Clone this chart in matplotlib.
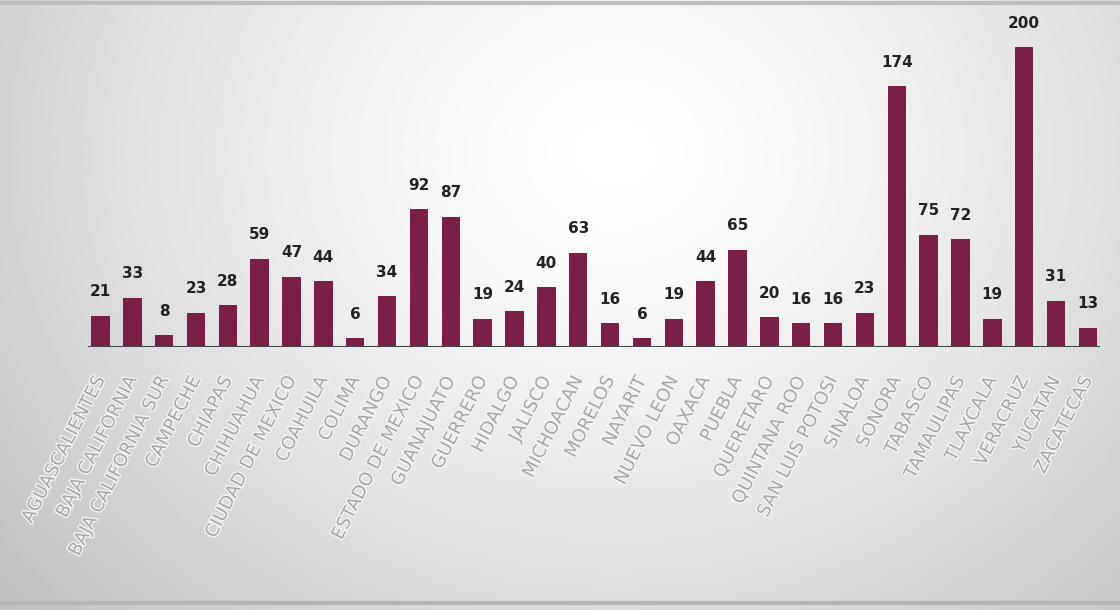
import numpy as np
import matplotlib
matplotlib.use("Agg")
import matplotlib.pyplot as plt
import matplotlib.patheffects as pe

estados = ["AGUASCALIENTES", "BAJA CALIFORNIA", "BAJA CALIFORNIA SUR", "CAMPECHE",
           "CHIAPAS", "CHIHUAHUA", "CIUDAD DE MEXICO", "COAHUILA", "COLIMA",
           "DURANGO", "ESTADO DE MEXICO", "GUANAJUATO", "GUERRERO", "HIDALGO",
           "JALISCO", "MICHOACAN", "MORELOS", "NAYARIT", "NUEVO LEON", "OAXACA",
           "PUEBLA", "QUERETARO", "QUINTANA ROO", "SAN LUIS POTOSI", "SINALOA",
           "SONORA", "TABASCO", "TAMAULIPAS", "TLAXCALA", "VERACRUZ", "YUCATAN",
           "ZACATECAS"]
casos = [21, 33, 8, 23, 28, 59, 47, 44, 6, 34, 92, 87, 19, 24, 40, 63, 16, 6,
         19, 44, 65, 20, 16, 16, 23, 174, 75, 72, 19, 200, 31, 13]

fig = plt.figure(figsize=(11.2, 6.1), dpi=100)

# soft radial background, light near the top centre, grey towards the edges
bg = fig.add_axes([0, 0, 1, 1], zorder=0)
yy, xx = np.mgrid[0:1:300j, 0:1:560j]
r = np.sqrt(((xx - 0.55) / 0.7) ** 2 + ((yy - 0.75) / 1.1) ** 2)
shade = 1.0 - 0.24 * np.clip(r, 0, 1.2) ** 1.4
bg.imshow(shade, cmap="gray", vmin=0, vmax=1, extent=[0, 1, 0, 1],
          aspect="auto", origin="lower", interpolation="bilinear")
bg.axhline(0.995, color="#bdbdbd", lw=3)
bg.axhline(0.012, color="#b5b5b5", lw=3)
bg.set_xlim(0, 1)
bg.set_ylim(0, 1)
bg.axis("off")

ax = fig.add_axes([0.079, 0.431, 0.903, 0.552], zorder=1)
ax.patch.set_alpha(0)
x = np.arange(len(estados))
bars = ax.bar(x, casos, width=0.58, color="#7a1f46", zorder=2)

for xi, v in zip(x, casos):
    ax.text(xi, v + 11, str(v), ha="center", va="bottom", fontsize=11,
            fontweight="bold", color="#222222", family="DejaVu Sans Condensed")

ax.axhline(0, color="#444444", lw=1.5, zorder=3)
ax.set_xlim(-0.375, len(estados) - 0.625)
ax.set_ylim(0, 224.5)
ax.set_yticks([])
ax.set_xticks(x)
ax.set_xticklabels(estados, rotation=63, ha="right", va="center",
                   rotation_mode="anchor", fontsize=13, color="#a8a8a8")
for lbl in ax.get_xticklabels():
    lbl.set_path_effects([pe.withStroke(linewidth=2, foreground="#f4f4f4")])
ax.tick_params(axis="x", length=0, pad=22)
for s in ax.spines.values():
    s.set_visible(False)

fig.savefig("out.png", dpi=100)
